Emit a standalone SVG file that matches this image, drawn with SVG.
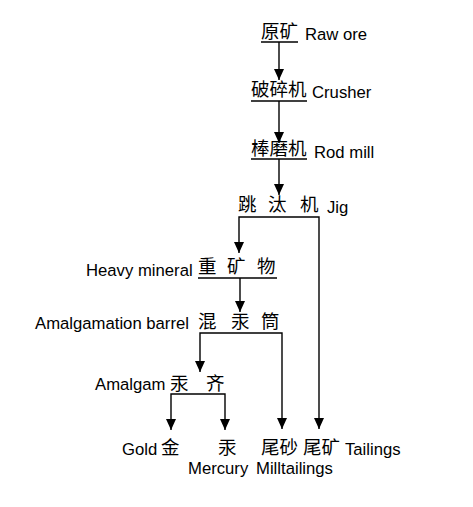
<svg xmlns="http://www.w3.org/2000/svg" width="473" height="507" viewBox="0 0 473 507">
<style>
.en{font-family:"Liberation Sans",Arial,sans-serif;font-size:16.7px;fill:#000}
.cn{font-family:"Noto Sans CJK SC","Noto Sans",sans-serif;font-size:18.5px;fill:#000}
.ln{stroke:#000;stroke-width:1.4;fill:none}
</style>
<defs>
<marker id="ah" markerUnits="userSpaceOnUse" markerWidth="11" markerHeight="10" refX="11" refY="5" orient="auto-start-reverse" viewBox="0 0 11 10">
<path d="M0,0 L11,5 L0,10 Z" fill="#000"/>
</marker>
</defs>
<rect width="473" height="507" fill="#fff"/>
<g id="connectors">
<line class="ln" x1="279" y1="42" x2="279" y2="80" marker-end="url(#ah)"/>
<line class="ln" x1="279" y1="101" x2="279" y2="143" marker-end="url(#ah)"/>
<line class="ln" x1="279" y1="159" x2="279" y2="195" marker-end="url(#ah)"/>
<polyline class="ln" points="239,253 239,217 319,217 319,429" marker-start="url(#ah)" marker-end="url(#ah)"/>
<line class="ln" x1="240" y1="278" x2="240" y2="312" marker-end="url(#ah)"/>
<polyline class="ln" points="200,372 200,333 282,333 282,429" marker-start="url(#ah)" marker-end="url(#ah)"/>
<polyline class="ln" points="171,430 171,394 225,394 225,430" marker-start="url(#ah)" marker-end="url(#ah)"/>
</g>
<g id="raw-ore">
<text class="cn" x="261" y="38">原矿</text>
<line class="ln" x1="261" y1="42" x2="298" y2="42"/>
<text class="en" x="305" y="40">Raw ore</text>
</g>
<g id="crusher">
<text class="cn" x="251" y="96">破碎机</text>
<line class="ln" x1="251" y1="101" x2="307" y2="101"/>
<text class="en" x="312" y="98">Crusher</text>
</g>
<g id="rod-mill">
<text class="cn" x="251" y="155">棒磨机</text>
<line class="ln" x1="251" y1="159" x2="307" y2="159"/>
<text class="en" x="314" y="158">Rod mill</text>
</g>
<g id="jig">
<text class="cn" x="238 268 300" y="211">跳汰机</text>
<text class="en" x="327" y="213">Jig</text>
</g>
<g id="heavy-mineral">
<text class="en" x="86" y="276">Heavy mineral</text>
<text class="cn" x="198 227 257" y="273">重矿物</text>
<line class="ln" x1="198" y1="278" x2="277" y2="278"/>
</g>
<g id="amalgamation-barrel">
<text class="en" x="35" y="329">Amalgamation barrel</text>
<text class="cn" x="198 231 261" y="328">混汞筒</text>
</g>
<g id="amalgam">
<text class="en" x="95" y="390">Amalgam</text>
<text class="cn" x="170 206" y="390">汞齐</text>
</g>
<g id="gold">
<text class="en" x="122" y="455">Gold</text>
<text class="cn" x="161" y="454">金</text>
</g>
<g id="mercury">
<text class="cn" x="218" y="454">汞</text>
<text class="en" x="188" y="474">Mercury</text>
</g>
<g id="milltailings">
<text class="cn" x="261" y="454">尾砂</text>
<text class="en" x="256" y="474">Milltailings</text>
</g>
<g id="tailings">
<text class="cn" x="303" y="454">尾矿</text>
<text class="en" x="345" y="455">Tailings</text>
</g>
</svg>
